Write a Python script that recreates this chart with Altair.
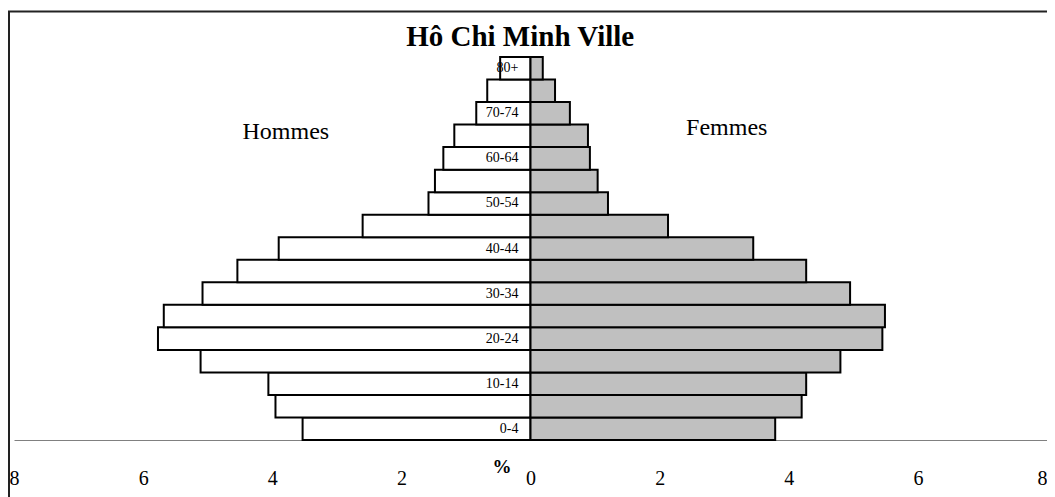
import altair as alt
import pandas as pd

ages = ["0-4", "5-9", "10-14", "15-19", "20-24", "25-29", "30-34", "35-39",
        "40-44", "45-49", "50-54", "55-59", "60-64", "65-69", "70-74", "75-79", "80+"]
hommes = [3.53, 3.95, 4.06, 5.11, 5.77, 5.68, 5.08, 4.54, 3.90, 2.60,
          1.58, 1.48, 1.35, 1.18, 0.84, 0.67, 0.47]
femmes = [3.79, 4.20, 4.27, 4.80, 5.45, 5.49, 4.95, 4.27, 3.45, 2.13,
          1.20, 1.04, 0.92, 0.89, 0.61, 0.38, 0.19]
age_labels = ages[::2]
tick_values = [-8, -6, -4, -2, 0, 2, 4, 6, 8]

W, H = 1033, 383
FONT = "Liberation Serif"

men = pd.DataFrame({"age": ages, "value": [-v for v in hommes]})
women = pd.DataFrame({"age": ages, "value": femmes})
lab = pd.DataFrame({"age": age_labels})

order = ages[::-1]
yenc = alt.Y("age:N", sort=order, scale=alt.Scale(domain=order, paddingInner=0, paddingOuter=0), axis=None)
xscale = alt.Scale(domain=[-8, 8], nice=False, zero=False)

men_bars = alt.Chart(men).mark_bar(fill="white", stroke="black", strokeWidth=2).encode(
    x=alt.X("value:Q", scale=xscale, title=None,
            axis=alt.Axis(values=tick_values, labelExpr="abs(datum.value)", grid=False,
                          ticks=False, tickSize=0, labelPadding=28, labelFont=FONT,
                          labelFontSize=20, labelColor="black", domainColor="#808080",
                          domainWidth=1, labelFlush=False, labelOverlap=False,
                          labelAlign={"condition": {"test": "datum.value >= 8", "value": "right"},
                                      "value": "center"})),
    x2=alt.datum(0),
    y=yenc,
)
women_bars = alt.Chart(women).mark_bar(fill="#C0C0C0", stroke="black", strokeWidth=2).encode(
    x=alt.X("value:Q", scale=xscale),
    x2=alt.datum(0),
    y=yenc,
)
age_text = alt.Chart(lab).mark_text(align="right", baseline="middle", dx=-12,
                                    font=FONT, fontSize=14, color="black").encode(
    x=alt.datum(0), y=yenc, text="age:N")

hommes_txt = alt.Chart(pd.DataFrame({"t": ["Hommes"], "x": [-3.79], "age": ["65-69"]})).mark_text(
    font=FONT, fontSize=24, baseline="middle", dy=-4, color="black").encode(
    x=alt.X("x:Q", scale=xscale), y=yenc, text="t:N")
femmes_txt = alt.Chart(pd.DataFrame({"t": ["Femmes"], "x": [3.04], "age": ["65-69"]})).mark_text(
    font=FONT, fontSize=24, baseline="middle", dy=-8, color="black").encode(
    x=alt.X("x:Q", scale=xscale), y=yenc, text="t:N")

title_txt = alt.Chart(pd.DataFrame({"t": ["Hô Chi Minh Ville"], "x": [-0.16]})).mark_text(
    font=FONT, fontSize=29, fontWeight="bold", baseline="middle", color="black").encode(
    x=alt.X("x:Q", scale=xscale), y=alt.value(-20), text="t:N")

pct = alt.Chart(pd.DataFrame({"t": ["%"], "x": [-0.44]})).mark_text(
    font=FONT, fontSize=19, fontWeight="bold", baseline="middle", color="black").encode(
    x=alt.X("x:Q", scale=xscale), y=alt.value(H + 27), text="t:N")

frame_left = alt.Chart(pd.DataFrame({"a": [0]})).mark_rule(color="#222", strokeWidth=2).encode(
    x=alt.value(-5), y=alt.value(-46), y2=alt.value(H + 120))
frame_top = alt.Chart(pd.DataFrame({"a": [0]})).mark_rule(color="#222", strokeWidth=2).encode(
    y=alt.value(-45.5), x=alt.value(-6), x2=alt.value(W + 50))

chart = alt.layer(frame_left, frame_top, men_bars, women_bars, age_text, hommes_txt,
                  femmes_txt, title_txt, pct).properties(
    width=W, height=H,
    background="white",
    autosize=alt.AutoSizeParams(type="none"),
    padding={"left": 6, "top": 49, "right": 0, "bottom": 57},
).configure_view(stroke="transparent", strokeWidth=0)

chart.save("out.html", embed_options={"renderer": "svg", "actions": False})
